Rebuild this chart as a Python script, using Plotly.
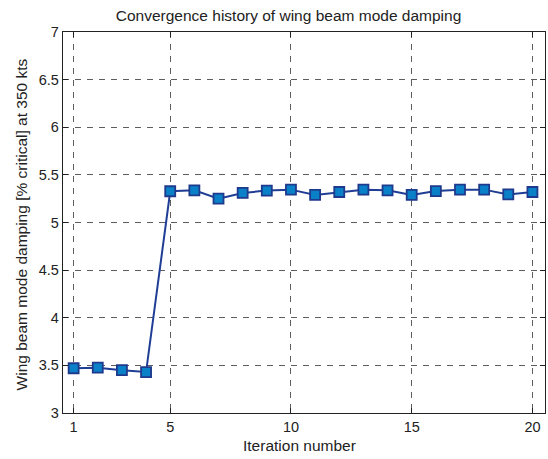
import plotly.graph_objects as go

iterations = list(range(1, 21))
damping = [3.47, 3.476, 3.45, 3.43, 5.328, 5.338, 5.25, 5.31, 5.335, 5.345,
           5.29, 5.32, 5.345, 5.338, 5.29, 5.33, 5.345, 5.345, 5.295, 5.32]

x_ticks = [1, 5, 10, 15, 20]
y_ticks = [3, 3.5, 4, 4.5, 5, 5.5, 6, 6.5, 7]
y_tick_text = ["3", "3.5", "4", "4.5", "5", "5.5", "6", "6.5", "7"]

title_text = "Convergence history of wing beam mode damping"
x_label = "Iteration number"
y_label = "Wing beam mode damping [% critical] at 350 kts"

font_family = "Liberation Sans, Arial, sans-serif"
ink = "#222"

fig = go.Figure()
fig.add_trace(go.Scatter(
    x=iterations, y=damping, mode="lines+markers",
    line=dict(color="#1f3d94", width=2),
    marker=dict(symbol="square", size=10, color="#0a80c8",
                line=dict(color="#1f3a8c", width=1.8)),
    showlegend=False,
))

axis_common = dict(
    showline=True, linecolor=ink, linewidth=1.3, mirror="ticks",
    ticks="inside", ticklen=5, tickcolor=ink, tickwidth=1,
    showgrid=True, gridcolor="#5e5e5e", gridwidth=1, griddash="6px,6px",
    zeroline=False,
    tickfont=dict(family=font_family, size=14.5, color=ink),
)

fig.update_layout(
    width=548, height=459,
    margin=dict(l=63, r=3, t=32, b=46),
    paper_bgcolor="white", plot_bgcolor="white",
    title=dict(text=title_text, x=0.5265, xanchor="center",
               y=0.965, yanchor="middle",
               font=dict(family=font_family, size=15.5, color=ink)),
    xaxis=dict(range=[0.56, 20.52], tickvals=x_ticks, **axis_common),
    yaxis=dict(range=[3, 7], tickvals=y_ticks, ticktext=y_tick_text,
               **axis_common),
    annotations=[
        dict(text=x_label, xref="paper", yref="paper", x=0.4897, y=-0.0849,
             xanchor="center", yanchor="middle", showarrow=False,
             font=dict(family=font_family, size=15.5, color=ink)),
        dict(text=y_label, xref="paper", yref="paper", x=-0.0864, y=0.496,
             xanchor="center", yanchor="middle", showarrow=False, textangle=-90,
             font=dict(family=font_family, size=15.5, color=ink)),
    ],
)

fig.write_html("out.html")
